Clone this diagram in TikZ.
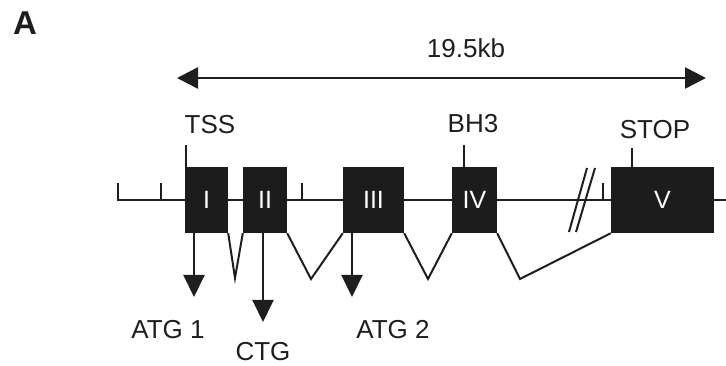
\documentclass[tikz,border=0pt]{standalone}
\usepackage{fontspec}
\setmainfont{Liberation Sans}
\usetikzlibrary{arrows.meta,calc}
\definecolor{exonfill}{HTML}{1C1C1C}
\definecolor{ink}{HTML}{1E1E1E}
\tikzset{
  gline/.style={draw=ink, line width=2pt},
  exon/.style={fill=exonfill, draw=none, inner sep=0pt, minimum height=66pt,
               text=white, font=\fontsize{25}{30}\selectfont},
  lbl/.style={inner sep=0pt, text=ink, font=\fontsize{26}{31}\selectfont},
  downarrow/.style={gline, -{Triangle[width=21pt,length=22pt]}},
  spanarrow/.style={draw=ink, line width=2.6pt,
                    {Triangle[width=21pt,length=21pt]}-{Triangle[width=21pt,length=21pt]}},
}
\begin{document}
\begin{tikzpicture}[x=1pt,y=-1pt]
  \useasboundingbox (0,0) rectangle (726,366);

  % panel letter
  \node[inner sep=0pt, text=ink, font=\fontsize{33}{38}\selectfont\bfseries] (panel) at (25,23) {A};

  % overall length
  \coordinate (spanL) at (177,78);
  \coordinate (spanR) at (706,78);
  \draw[spanarrow] (spanL) -- (spanR);
  \node[lbl] (span) at (466,48) {19.5kb};

  % genomic line with scale ticks
  \coordinate (lineStart) at (118,200);
  \coordinate (lineEnd) at (726,200);
  \draw[gline] (118,183) -- (lineStart) -- (lineEnd);
  \draw[gline] (161,183) -- (161,200);
  \draw[gline] (302,183) -- (302,200);
  \draw[gline] (603,183) -- (603,200);

  % break in the line
  \draw[gline] (569,232) -- (587,168);
  \draw[gline] (576,232) -- (595,168);

  % exons
  \node[exon, minimum width=43pt]  (e1) at (206.5,200) {I};
  \node[exon, minimum width=44pt]  (e2) at (265,200)   {II};
  \node[exon, minimum width=61pt]  (e3) at (373.5,200) {III};
  \node[exon, minimum width=45pt]  (e4) at (474.5,200) {IV};
  \node[exon, minimum width=103pt] (e5) at (662.5,200) {V};

  % site markers above the exons
  \draw[gline] ($(e1.north west)+(1,0)$) -- ++(0,-22);
  \node[lbl] (tss) at (210,125) {TSS};
  \draw[gline] ($(e4.north west)+(12,0)$) -- ++(0,-22);
  \node[lbl] (bh3) at (473,124) {BH3};
  \draw[gline] ($(e5.north west)+(21,0)$) -- ++(0,-19);
  \node[lbl] (stop) at (655,130) {STOP};

  % splicing
  \draw[gline, line join=miter] (e1.south east) -- (235,278) -- (e2.south west);
  \draw[gline, line join=miter] (e2.south east) -- (311,279) -- (e3.south west);
  \draw[gline, line join=miter] (e3.south east) -- (428,279) -- (e4.south west);
  \draw[gline, line join=miter] (e4.south east) -- (520,279) -- (e5.south west);

  % start codons
  \coordinate (atg1tip) at (194,297);
  \coordinate (ctgtip) at (263,322);
  \coordinate (atg2tip) at (352,297);
  \draw[downarrow] (atg1tip |- e1.south) -- (atg1tip);
  \draw[downarrow] (ctgtip |- e2.south) -- (ctgtip);
  \draw[downarrow] (atg2tip |- e3.south) -- (atg2tip);
  \node[lbl] (atg1) at (168,330) {ATG 1};
  \node[lbl] (ctg) at (263,352) {CTG};
  \node[lbl] (atg2) at (393,330) {ATG 2};
\end{tikzpicture}
\end{document}
